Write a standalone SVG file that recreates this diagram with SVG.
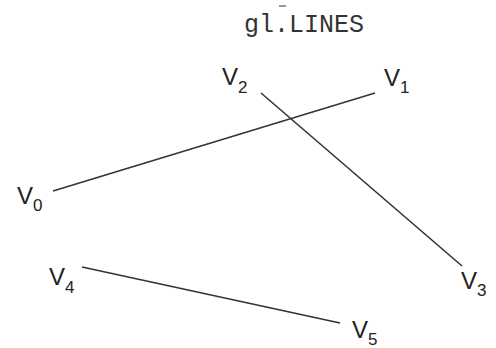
<svg xmlns="http://www.w3.org/2000/svg" width="496" height="348" viewBox="0 0 496 348">
<style>
.v{font-family:"Liberation Sans",Arial,sans-serif;font-size:24px;fill:#222}
.s{font-size:17px}
.e{stroke:#333;stroke-width:1.6;fill:none}
.t{font-family:"Liberation Mono","Courier New",monospace;font-size:25px;fill:#333}
</style>
<rect width="496" height="348" fill="#fff"/>
<g id="title">
<line x1="279" y1="6" x2="286" y2="6" stroke="#5f7898" stroke-width="1.5"/>
<text class="t" x="304" y="32" text-anchor="middle">gl.LINES</text>
</g>
<g id="connectors">
<line class="e" x1="53" y1="191" x2="375" y2="93"/>
<line class="e" x1="261" y1="93" x2="462" y2="266"/>
<line class="e" x1="82" y1="267" x2="340" y2="323"/>
</g>
<g id="v0"><text class="v" x="17" y="204">V<tspan class="s" dy="7">0</tspan></text></g>
<g id="v1"><text class="v" x="384" y="86">V<tspan class="s" dy="7">1</tspan></text></g>
<g id="v2"><text class="v" x="222" y="85">V<tspan class="s" dy="8">2</tspan></text></g>
<g id="v3"><text class="v" x="461" y="289">V<tspan class="s" dy="7">3</tspan></text></g>
<g id="v4"><text class="v" x="49" y="285">V<tspan class="s" dy="8">4</tspan></text></g>
<g id="v5"><text class="v" x="352" y="338">V<tspan class="s" dy="7">5</tspan></text></g>
</svg>
